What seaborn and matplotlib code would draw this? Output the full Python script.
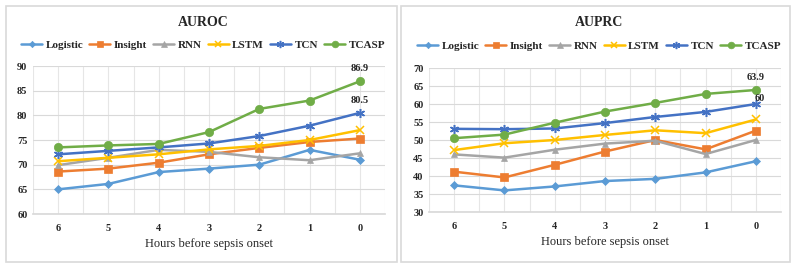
import matplotlib
matplotlib.use("Agg")
import matplotlib.pyplot as plt
import seaborn as sns
import pandas as pd
from matplotlib.patches import Rectangle
from matplotlib.lines import Line2D

hours = ["6", "5", "4", "3", "2", "1", "0"]
models = ["Logistic", "Insight", "RNN", "LSTM", "TCN", "TCASP"]

auroc_logistic = [65.0, 66.1, 68.5, 69.2, 70.0, 73.0, 71.0]
auroc_insight = [68.6, 69.2, 70.4, 72.1, 73.4, 74.6, 75.3]
auroc_rnn = [69.9, 71.4, 73.0, 72.6, 71.5, 70.9, 72.3]
auroc_lstm = [70.7, 71.4, 72.1, 73.1, 73.8, 75.0, 77.0]
auroc_tcn = [72.1, 72.8, 73.5, 74.3, 75.8, 77.9, 80.5]
auroc_tcasp = [73.5, 73.9, 74.2, 76.6, 81.3, 83.0, 86.9]

auprc_logistic = [37.4, 36.0, 37.1, 38.6, 39.2, 41.0, 44.1]
auprc_insight = [41.2, 39.6, 43.1, 46.8, 50.0, 47.4, 52.6]
auprc_rnn = [46.0, 45.1, 47.3, 49.0, 49.8, 46.1, 50.0]
auprc_lstm = [47.2, 49.1, 50.0, 51.4, 52.7, 51.9, 55.7]
auprc_tcn = [53.1, 53.0, 53.2, 54.7, 56.4, 57.8, 60.0]
auprc_tcasp = [50.5, 51.5, 54.8, 57.9, 60.3, 62.8, 63.9]

colors = ["#5B9BD5", "#ED7D31", "#A5A5A5", "#FFC000", "#4472C4", "#70AD47"]
markers = ["D", "s", "^", "x", (6, 2, 0), "o"]
msizes = [4, 6, 5, 6, 6.5, 6]

def long_df(series):
    rows = []
    for m, vals in zip(models, series):
        for h, v in zip(hours, vals):
            rows.append({"Hours": h, "Model": m, "Value": v})
    return pd.DataFrame(rows)

df_roc = long_df([auroc_logistic, auroc_insight, auroc_rnn, auroc_lstm, auroc_tcn, auroc_tcasp])
df_prc = long_df([auprc_logistic, auprc_insight, auprc_rnn, auprc_lstm, auprc_tcn, auprc_tcasp])

sns.set_theme(style="white")
plt.rcParams["font.family"] = ["Liberation Serif", "DejaVu Serif"]

fig = plt.figure(figsize=(7.96, 2.70), dpi=100)

# chart border boxes
fig.patches.append(Rectangle((6/796, 1 - 262/270), 391/796, 256/270, transform=fig.transFigure,
                             fill=False, edgecolor="#D9D9D9", linewidth=1.2))
fig.patches.append(Rectangle((401/796, 1 - 262/270), 389/796, 256/270, transform=fig.transFigure,
                             fill=False, edgecolor="#D9D9D9", linewidth=1.2))

ax1 = fig.add_axes([33/796, 1 - 214/270, 352/796, 148/270])
ax2 = fig.add_axes([429/796, 1 - 212/270, 352/796, 144/270])

def mew(mk):
    return 1.1 if mk in ("x", (6, 2, 0)) else 0.5

def draw(ax, df, ylim, yticks, title, title_y, leg_y, cx, labels):
    for m, c, mk, ms in zip(models, colors, markers, msizes):
        sub = df[df["Model"] == m]
        sns.lineplot(data=sub, x="Hours", y="Value", ax=ax, color=c, marker=mk,
                     markersize=ms, markeredgecolor=c, markeredgewidth=mew(mk),
                     linewidth=1.8, sort=False, legend=False, zorder=3)
    ax.set_xlim(-0.5, 6.5)
    ax.set_ylim(*ylim)
    ax.set_yticks(yticks)
    ax.set_xticks(range(7))
    ax.set_xticklabels(hours)
    ax.set_xticks([i + 0.5 for i in range(-1, 7)], minor=True)
    ax.grid(True, which="both", axis="x", color="#E6E6E6", linewidth=0.8)
    ax.grid(True, which="major", axis="y", color="#D9D9D9", linewidth=0.8)
    ax.set_axisbelow(True)
    for s in ["top", "right", "left"]:
        ax.spines[s].set_visible(False)
    ax.spines["bottom"].set_color("#D9D9D9")
    ax.tick_params(axis="both", which="both", length=0, labelsize=7.5, pad=4)
    ax.tick_params(axis="x", pad=7)
    for t in ax.get_xticklabels() + ax.get_yticklabels():
        t.set_fontweight("bold")
    ax.set_ylabel("")
    ax.set_xlabel("Hours before sepsis onset", fontsize=9, labelpad=4)
    fig.text(cx, title_y, title, ha="center", va="center", fontsize=10, fontweight="bold")
    handles = [Line2D([0], [0], color=c, marker=mk, markersize=ms * 0.8, markeredgecolor=c,
                      markeredgewidth=mew(mk), linewidth=1.8)
               for c, mk, ms in zip(colors, markers, msizes)]
    fig.legend(handles, models, loc="center", bbox_to_anchor=(cx, leg_y), ncol=6, frameon=False,
               prop={"weight": "bold", "size": 8, "family": "Liberation Serif"},
               handlelength=1.9, handletextpad=0.3, columnspacing=0.55, borderpad=0)
    for (x, y, txt, dx, dy) in labels:
        ax.annotate(txt, (x, y), xytext=(dx, dy), textcoords="offset points", ha="center",
                    va="bottom", fontsize=7.5, fontweight="bold")

draw(ax1, df_roc, (60, 90), range(60, 91, 5), "AUROC", 1 - 23/270, 1 - 45/270, 203/796,
     [(6, auroc_tcasp[6], "86.9", 0, 6), (6, auroc_tcn[6], "80.5", 0, 6)])
draw(ax2, df_prc, (30, 70), range(30, 71, 5), "AUPRC", 1 - 23/270, 1 - 46/270, 599/796,
     [(6, auprc_tcasp[6], "63.9", 0, 6), (6, auprc_tcn[6], "60", 3, 1)])

fig.savefig("out.png", dpi=100)
